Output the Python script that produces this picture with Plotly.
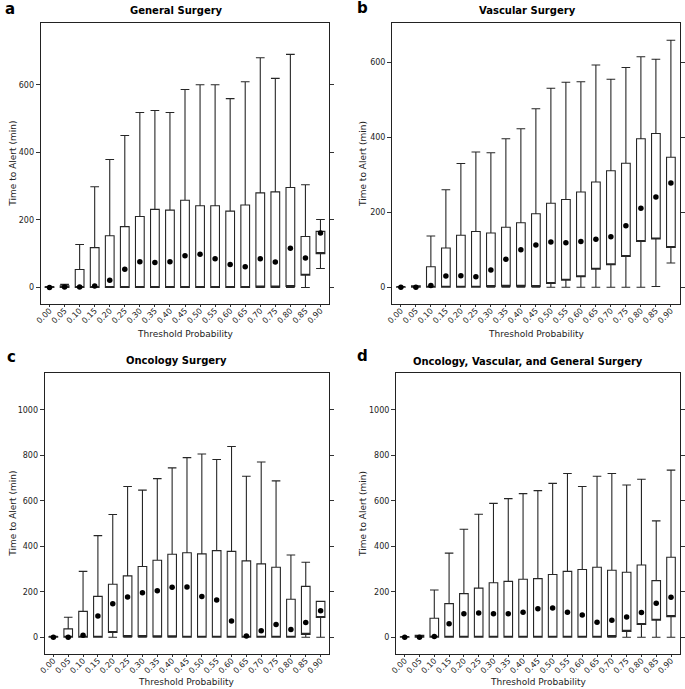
import plotly.graph_objects as go

W, H = 685, 689

categories = ["0.00", "0.05", "0.10", "0.15", "0.20", "0.25", "0.30", "0.35", "0.40", "0.45",
              "0.50", "0.55", "0.60", "0.65", "0.70", "0.75", "0.80", "0.85", "0.90"]

# Panel a: General Surgery
gen_lower = [0, 0, 0, 0, 0, 0, 0, 0, 0, 0, 0, 0, 0, 0, 0, 0, 0, 0, 56]
gen_q1 = [0, 0, 0, 0, 0, 0, 0, 0, 0, 0, 0, 0, 0, 0, 1, 1, 3, 36, 100]
gen_median = [0, 1, 1, 4, 21, 54, 76, 74, 76, 94, 98, 85, 68, 61, 85, 75, 116, 87, 161]
gen_q3 = [2, 5, 53, 118, 153, 180, 210, 231, 229, 258, 242, 242, 226, 244, 280, 283, 296, 151, 166]
gen_upper = [3, 9, 127, 298, 379, 450, 518, 524, 518, 586, 600, 600, 559, 609, 680, 619, 690, 304, 201]

# Panel b: Vascular Surgery
vas_lower = [0, 0, 0, 0, 0, 0, 0, 0, 0, 0, 0, 0, 0, 0, 0, 0, 0, 2, 65]
vas_q1 = [0, 0, 0, 0, 0, 0, 2, 3, 3, 2, 10, 19, 28, 48, 60, 82, 122, 129, 106]
vas_median = [0, 0, 5, 30, 31, 28, 46, 75, 100, 113, 121, 119, 122, 128, 135, 164, 211, 241, 278]
vas_q3 = [1, 4, 55, 105, 139, 149, 145, 160, 172, 196, 224, 234, 254, 281, 311, 331, 396, 410, 347]
vas_upper = [2, 4, 137, 260, 330, 361, 359, 396, 423, 476, 531, 547, 548, 593, 555, 586, 615, 608, 659]

# Panel c: Oncology Surgery
onc_lower = [0, 0, 0, 0, 0, 0, 0, 0, 0, 0, 0, 0, 0, 0, 0, 0, 0, 0, 0]
onc_q1 = [0, 0, 0, 0, 21, 3, 3, 2, 2, 0, 0, 0, 0, 0, 0, 0, 0, 13, 87]
onc_median = [0, 0, 9, 94, 147, 177, 196, 205, 220, 221, 179, 164, 72, 6, 29, 56, 34, 65, 117]
onc_q3 = [3, 37, 114, 180, 233, 270, 311, 339, 365, 372, 367, 381, 378, 336, 323, 308, 167, 224, 158]
onc_upper = [4, 88, 290, 447, 540, 663, 647, 698, 745, 790, 806, 782, 839, 708, 771, 688, 362, 330, 158]

# Panel d: Oncology, Vascular, and General Surgery
all_lower = [0, 0, 0, 0, 0, 0, 0, 0, 0, 0, 0, 0, 0, 0, 0, 0, 0, 0, 0]
all_q1 = [0, 0, 0, 0, 0, 0, 0, 0, 0, 0, 0, 0, 0, 0, 3, 26, 56, 75, 91]
all_median = [0, 0, 3, 60, 104, 107, 104, 104, 110, 125, 129, 110, 98, 66, 75, 89, 109, 150, 176]
all_q3 = [2, 9, 84, 148, 192, 216, 240, 246, 255, 258, 276, 290, 298, 308, 295, 286, 318, 249, 352]
all_upper = [3, 9, 208, 370, 475, 541, 589, 610, 632, 645, 677, 720, 663, 708, 720, 670, 695, 512, 735]

panel_titles = ["General Surgery", "Vascular Surgery", "Oncology Surgery",
                "Oncology, Vascular, and General Surgery"]
panel_letters = ["a", "b", "c", "d"]
y_title = "Time to Alert (min)"
x_title = "Threshold Probability"

panels = [
    (gen_lower, gen_q1, gen_median, gen_q3, gen_upper),
    (vas_lower, vas_q1, vas_median, vas_q3, vas_upper),
    (onc_lower, onc_q1, onc_median, onc_q3, onc_upper),
    (all_lower, all_q1, all_median, all_q3, all_upper),
]

# layout geometry in pixels: (left, right, top, bottom)
frames = [(35, 326.7, 23.3, 304), (390, 680.7, 23.3, 304),
          (39, 326.7, 373.3, 654), (394, 680.7, 373.3, 654)]
y_ranges = [[-49, 782], [-44.5, 704], [-73.5, 1161], [-73.5, 1161]]
y_ticks = [[0, 200, 400, 600], [0, 200, 400, 600],
           [0, 200, 400, 600, 800, 1000], [0, 200, 400, 600, 800, 1000]]


def px(x):
    return x / W


def py(y):
    return 1 - y / H


FONT = "DejaVu Sans"
fig = go.Figure()
layout = dict(width=W, height=H, margin=dict(l=0, r=0, t=0, b=0),
              paper_bgcolor="white", plot_bgcolor="white", showlegend=False,
              boxmode="overlay", font=dict(family=FONT, size=9, color="#222"))
annotations = []

for i, (lo, q1, med, q3, up) in enumerate(panels):
    n = "" if i == 0 else str(i + 1)
    xa, ya = "x" + n, "y" + n
    fig.add_trace(go.Box(
        x=categories, q1=q1, median=q1, q3=q3, lowerfence=lo, upperfence=up,
        fillcolor="white", line=dict(color="#262626", width=1.1),
        whiskerwidth=1, width=0.58, boxpoints=False, hoverinfo="skip",
        xaxis=xa, yaxis=ya))
    fig.add_trace(go.Scatter(
        x=categories, y=med, mode="markers",
        marker=dict(color="black", size=5.5), xaxis=xa, yaxis=ya))
    l, r, t, b = frames[i]
    layout["xaxis" + n] = dict(
        domain=[px(l), px(r)], anchor=ya, type="category",
        range=[-0.59, 18.59], tickangle=-45, ticks="outside", ticklen=2,
        ticklabelstandoff=-4,
        tickcolor="#333", showline=True, linecolor="#222", linewidth=1,
        mirror=True, showgrid=False, zeroline=False,
        tickfont=dict(family=FONT, size=8, color="#222"))
    layout["yaxis" + n] = dict(
        domain=[py(b), py(t)], anchor=xa, range=y_ranges[i],
        tickvals=y_ticks[i], ticks="outside", ticklen=4, tickcolor="#333",
        showline=True, linecolor="#222", linewidth=1, mirror="ticks",
        showgrid=False, zeroline=False,
        tickfont=dict(family=FONT, size=8, color="#222"))

title_pos = [(172, 11), (527, 11), (172.5, 360), (527, 361)]
letter_pos = [(4, 9), (360, 8), (6, 357), (360, 356)]
ytitle_pos = [(7, 163.7), (360, 163.7), (7, 513.7), (360, 513.7)]
xtitle_pos = [(181, 334), (535, 334), (182, 682), (537, 682)]

for i in range(4):
    annotations.append(dict(text="<b>%s</b>" % panel_titles[i], x=px(title_pos[i][0]),
                            y=py(title_pos[i][1]), xref="paper", yref="paper",
                            showarrow=False, xanchor="center", yanchor="middle",
                            font=dict(family=FONT, size=10, color="black")))
    annotations.append(dict(text="<b>%s</b>" % panel_letters[i], x=px(letter_pos[i][0]),
                            y=py(letter_pos[i][1]), xref="paper", yref="paper",
                            showarrow=False, xanchor="center", yanchor="middle",
                            font=dict(family=FONT, size=15, color="black")))
    annotations.append(dict(text=y_title, x=px(ytitle_pos[i][0]), y=py(ytitle_pos[i][1]),
                            xref="paper", yref="paper", showarrow=False, textangle=-90,
                            xanchor="center", yanchor="middle",
                            font=dict(family=FONT, size=9, color="#222")))
    annotations.append(dict(text=x_title, x=px(xtitle_pos[i][0]), y=py(xtitle_pos[i][1]),
                            xref="paper", yref="paper", showarrow=False,
                            xanchor="center", yanchor="middle",
                            font=dict(family=FONT, size=9, color="#222")))

layout["annotations"] = annotations
fig.update_layout(**layout)
fig.write_html("out.html", config={"displayModeBar": False},
               post_script="document.body.style.margin='0px';"
                           "document.body.style.overflow='hidden';")
